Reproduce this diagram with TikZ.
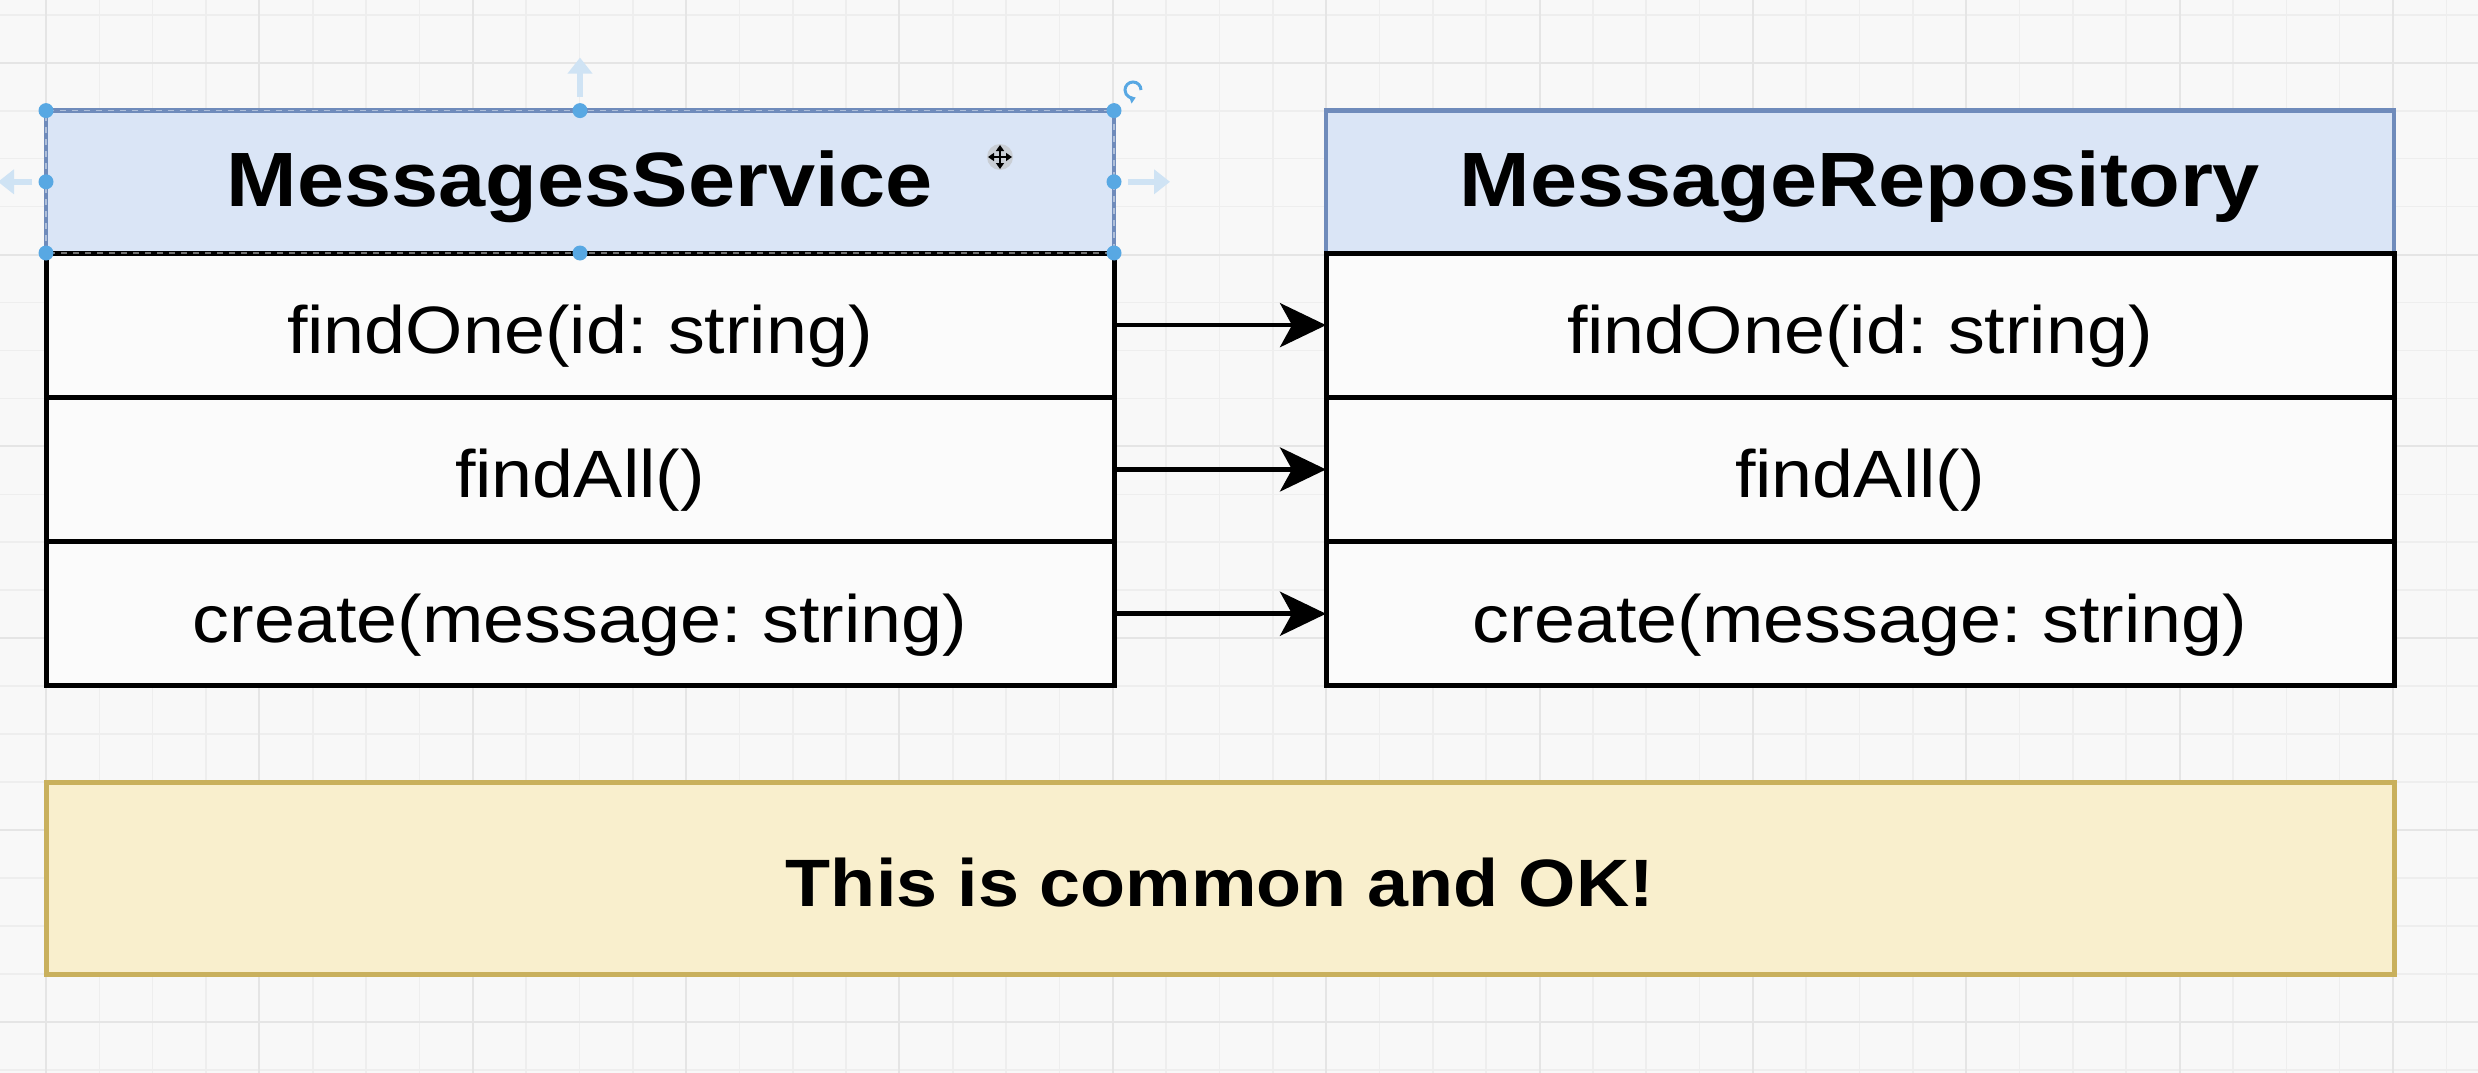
\documentclass[tikz,border=0pt]{standalone}
\usepackage{fontspec}
\setmainfont{Liberation Sans}[FakeStretch=1.1]
\usetikzlibrary{arrows.meta}
\frenchspacing

\definecolor{canvas}{HTML}{F8F8F8}
\definecolor{gridminor}{HTML}{EEEEEE}
\definecolor{gridmajor}{HTML}{E5E5E5}
\definecolor{hdrfill}{HTML}{DAE5F6}
\definecolor{hdrline}{HTML}{6F8BBB}
\definecolor{methodfill}{HTML}{FBFBFB}
\definecolor{notefill}{HTML}{F9EFCD}
\definecolor{noteline}{HTML}{C9B05C}
\definecolor{handle}{HTML}{58A8E3}
\definecolor{hint}{HTML}{CFE3F4}

\begin{document}
\begin{tikzpicture}[x=1pt,y=-1pt,
  every node/.style={inner sep=0pt, outer sep=0pt},
  classhead/.style={rectangle, fill=hdrfill, draw=hdrline, line width=4.5pt,
    minimum width=1068pt, minimum height=142.4pt,
    font=\fontsize{77pt}{90pt}\selectfont\bfseries,
    text height=64.7pt, text depth=16.2pt},
  methodbox/.style={rectangle, fill=methodfill, draw=black, line width=5pt,
    minimum width=1068pt, minimum height=144.3pt,
    font=\fontsize{67pt}{80pt}\selectfont,
    text height=71pt, text depth=14pt},
  notebox/.style={rectangle, fill=notefill, draw=noteline, line width=5pt,
    minimum width=2348pt, minimum height=192pt,
    font=\fontsize{67pt}{80pt}\selectfont\bfseries,
    text height=70pt, text depth=14pt},
  call/.style={draw=black, line width=4.6pt,
    -{Stealth[length=46pt, width=44pt, inset=12pt]}},
  hintarrow/.style={draw=hint, line width=6pt,
    -{Triangle[length=16pt, width=24pt]}},
]

% canvas and grid
\useasboundingbox (0,0) rectangle (2478,1073);
\fill[canvas] (0,0) rectangle (2478,1073);
\begin{scope}
  \clip (0,0) rectangle (2478,1073);
  \foreach \i in {-1,...,46}
    \draw[gridminor, line width=1.6pt] ({46+\i*53.34},0) -- ({46+\i*53.34},1073);
  \foreach \k in {-3,...,20}
    \draw[gridminor, line width=1.6pt] (0,{110.7+\k*47.95}) -- (2478,{110.7+\k*47.95});
  \foreach \i in {0,4,...,44}
    \draw[gridmajor, line width=2pt] ({46+\i*53.34},0) -- ({46+\i*53.34},1073);
  \foreach \k in {-1,3,...,19}
    \draw[gridmajor, line width=2pt] (0,{110.7+\k*47.95}) -- (2478,{110.7+\k*47.95});
\end{scope}

% MessagesService
\node[classhead] (ls) at (580,181.8) {MessagesService};
\node[methodbox] (l1) at (580,325.15) {findOne(id: string)};
\node[methodbox] (l2) at (580,469.45) {findAll()};
\node[methodbox] (l3) at (580,613.75) {create(message: string)};

% MessageRepository
\node[classhead] (rs) at (1860,181.8) {MessageRepository};
\node[methodbox] (r1) at (1860,325.15) {findOne(id: string)};
\node[methodbox] (r2) at (1860,469.45) {findAll()};
\node[methodbox] (r3) at (1860,613.75) {create(message: string)};

% calls from the service into the repository
\draw[call] (l1.east) -- (r1.west);
\draw[call] (l2.east) -- (r2.west);
\draw[call] (l3.east) -- (r3.west);

% remark
\node[notebox] (note) at (1220,878) {This is common and OK!};

% selection frame on the service header
\draw[white, opacity=0.45, line width=1.5pt, dash pattern=on 6pt off 6pt]
  (ls.south west) -- (ls.north west) -- (ls.north east) -- (ls.south east) -- cycle;
\foreach \a in {north west,north,north east,west,east,south west,south,south east}
  \fill[handle] (ls.\a) circle (7.5);

% resize hints around the selection
\coordinate (upfrom) at ([yshift=14pt]ls.north);
\coordinate (upto) at ([yshift=53pt]ls.north);
\coordinate (rightfrom) at ([xshift=14pt]ls.east);
\coordinate (rightto) at ([xshift=56pt]ls.east);
\coordinate (leftfrom) at ([xshift=-14pt]ls.west);
\coordinate (leftto) at ([xshift=-48pt]ls.west);
\draw[hintarrow] (upfrom) -- (upto);
\draw[hintarrow] (rightfrom) -- (rightto);
\draw[hintarrow] (leftfrom) -- (leftto);

% rotation handle
\coordinate (rot) at (1133,90);
\draw[handle, line width=3pt, -{Triangle[length=6pt,width=8pt]}]
  ([xshift=8pt]rot) arc[start angle=0, end angle=-290, radius=8];

% move cursor
\coordinate (mv) at (1000,157);
\begin{scope}[shift={(mv)}]
  \fill[black!25, opacity=0.6] (0,0) circle (13);
  \draw[black, line width=2.5pt, {Triangle[length=6pt,width=8pt]}-{Triangle[length=6pt,width=8pt]}] (-12,0) -- (12,0);
  \draw[black, line width=2.5pt, {Triangle[length=6pt,width=8pt]}-{Triangle[length=6pt,width=8pt]}] (0,-12) -- (0,12);
\end{scope}

\end{tikzpicture}
\end{document}
